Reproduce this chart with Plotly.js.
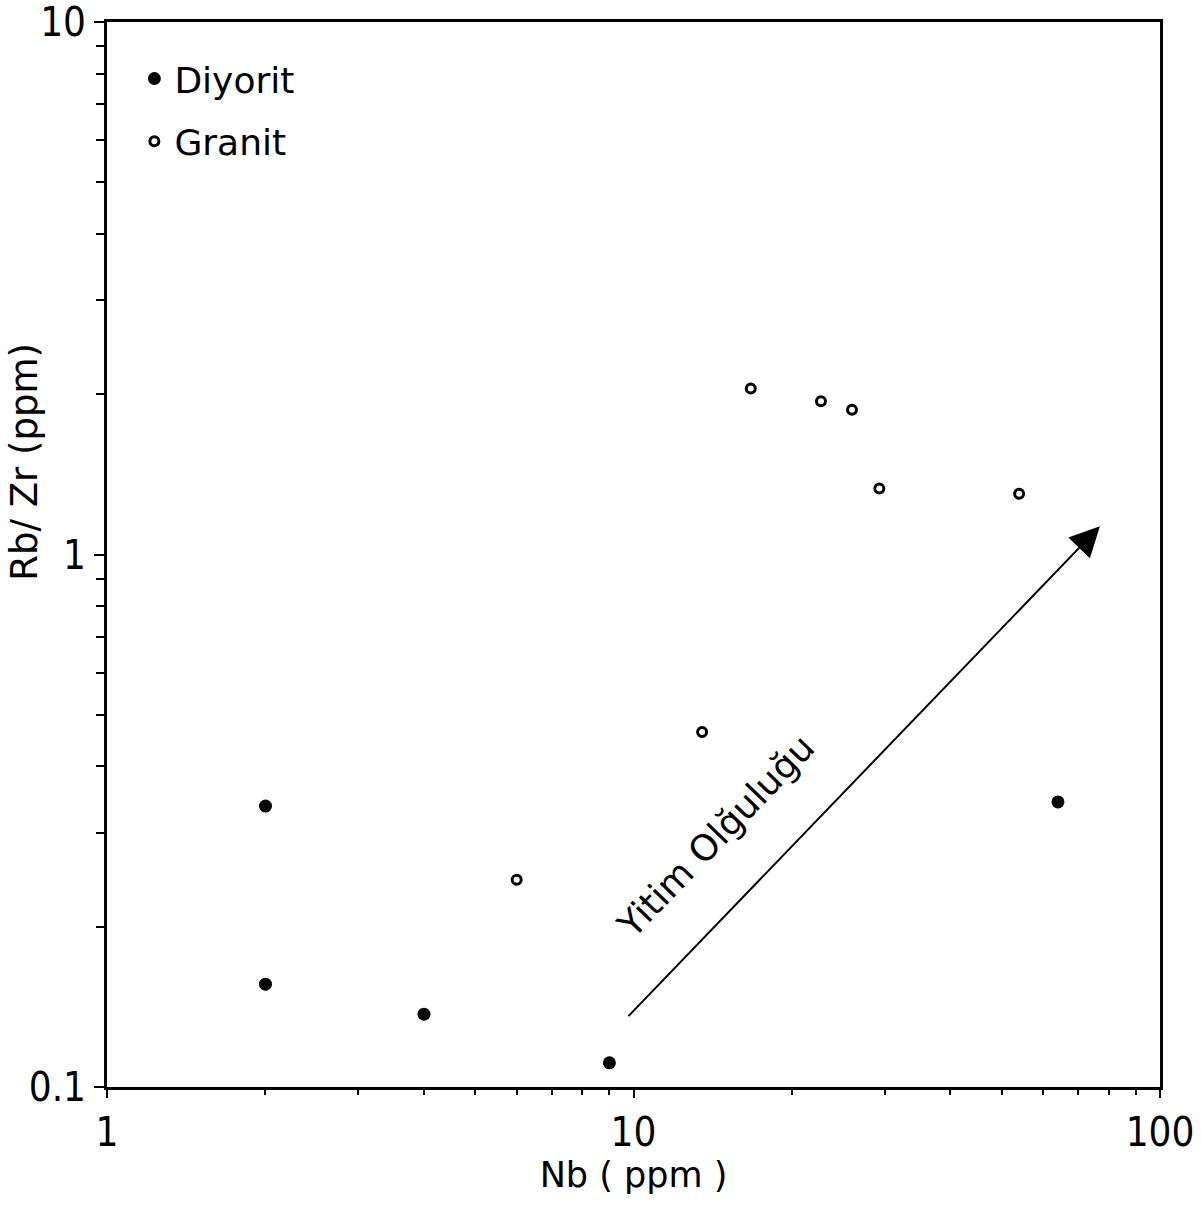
<!DOCTYPE html>
<html>
<head>
<meta charset="utf-8">
<script src="https://cdn.plot.ly/plotly-3.0.1.min.js"></script>
<style>html,body{margin:0;padding:0;background:#fff;}#chart{width:1201px;height:1209px;}</style>
</head>
<body>
<div id="chart"></div>
<script>
// Data
var diyoritNb = [2, 2, 4, 9, 64];
var diyoritRbZr = [0.337, 0.156, 0.137, 0.111, 0.343];
var granitNb = [6, 13.5, 16.7, 22.7, 26, 29.3, 54];
var granitRbZr = [0.245, 0.464, 2.05, 1.94, 1.87, 1.33, 1.30];
var seriesNames = ["Diyorit", "Granit"];
var xTickVals = [1, 10, 100];
var xTickText = ["1", "10", "100"];
var yTickVals = [0.1, 1, 10];
var yTickText = ["0.1", "1", "10"];
var minorVals = [0.2,0.3,0.4,0.5,0.6,0.7,0.8,0.9,2,3,4,5,6,7,8,9,20,30,40,50,60,70,80,90];
var arrowStart = [9.72, 0.135];   // Nb, Rb/Zr
var arrowEnd = [76.9, 1.13];
var arrowLabel = "Yitim Olğuluğu";
var arrowLabelPos = [14.3, 0.296];
var xTitle = "Nb ( ppm )";
var yTitle = "Rb/ Zr (ppm)";

var numFont = "Liberation Sans Narrow, DejaVu Sans Condensed, Liberation Sans, sans-serif";
var txtFont = "DejaVu Sans, sans-serif";

var traces = [
  {x: diyoritNb, y: diyoritRbZr, name: seriesNames[0], type: "scatter", mode: "markers",
   legendgroup: "a",
   marker: {symbol: "circle", size: 13, color: "#000"}},
  {x: granitNb, y: granitRbZr, name: seriesNames[1], type: "scatter", mode: "markers",
   legendgroup: "b",
   marker: {symbol: "circle-open", size: 9, color: "#000", line: {width: 3, color: "#000"}}}
];

var axisCommon = {
  type: "log", showgrid: false, zeroline: false,
  showline: true, linecolor: "#000", linewidth: 3, mirror: true,
  ticks: "outside", tickcolor: "#000", tickwidth: 2,
  ticklabeloverflow: "allow",
  tickfont: {family: numFont, size: 40, color: "#000"}
};

var layout = {
  width: 1201, height: 1209,
  margin: {l: 107, r: 41, t: 22, b: 122},
  paper_bgcolor: "#fff", plot_bgcolor: "#fff",
  showlegend: true,
  legend: {x: 0.026, y: 0.975, xanchor: "left", yanchor: "top",
           font: {family: txtFont, size: 36, color: "#000"},
           bgcolor: "rgba(0,0,0,0)", borderwidth: 0,
           traceorder: "grouped", tracegroupgap: 13},
  xaxis: Object.assign({}, axisCommon, {
    range: [0, 2], tickmode: "array", tickvals: xTickVals, ticktext: xTickText, ticklen: 8,
    minor: {tickmode: "array", tickvals: minorVals, ticks: "outside", ticklen: 5, tickwidth: 2, tickcolor: "#000"},
    title: {text: xTitle, font: {family: txtFont, size: 35, color: "#000"}, standoff: 0}
  }),
  yaxis: Object.assign({}, axisCommon, {
    range: [-1, 1], tickmode: "array", tickvals: yTickVals, ticktext: yTickText, ticklen: 10,
    minor: {tickmode: "array", tickvals: minorVals, ticks: "outside", ticklen: 8, tickwidth: 2, tickcolor: "#000"}
  }),
  annotations: [
    {x: Math.log10(arrowEnd[0]), y: Math.log10(arrowEnd[1]), xref: "x", yref: "y",
     ax: Math.log10(arrowStart[0]), ay: Math.log10(arrowStart[1]), axref: "x", ayref: "y",
     showarrow: true, arrowhead: 2, arrowsize: 3, arrowwidth: 2, arrowcolor: "#000", text: ""},
    {x: Math.log10(arrowLabelPos[0]), y: Math.log10(arrowLabelPos[1]), xref: "x", yref: "y",
     text: arrowLabel, showarrow: false, textangle: -46,
     font: {family: txtFont, size: 36, color: "#000"}},
    {x: -0.078, y: 0.587, xref: "paper", yref: "paper", text: yTitle, showarrow: false,
     textangle: -90, xanchor: "center", yanchor: "middle",
     font: {family: txtFont, size: 37, color: "#000"}}
  ]
};

Plotly.newPlot("chart", traces, layout, {displayModeBar: false, staticPlot: true});
</script>
</body>
</html>
